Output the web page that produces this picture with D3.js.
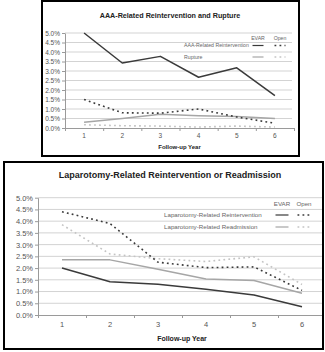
<!DOCTYPE html>
<html><head><meta charset="utf-8">
<script src="https://cdn.jsdelivr.net/npm/d3@7"></script>
<style>
html,body{margin:0;padding:0;background:#fff;}
svg{display:block;font-family:"Liberation Sans",Arial,sans-serif;}
</style></head>
<body><svg id="c" width="325" height="352"></svg>
<script>
// ---- data ----
const years = ["1","2","3","4","5","6"];
const yTickValues = [0,0.5,1,1.5,2,2.5,3,3.5,4,4.5,5];

const topTitle = "AAA-Related Reintervention and Rupture";
const aaaReintEvar = [5.0, 3.42, 3.77, 2.67, 3.17, 1.70];
const aaaReintOpen = [1.5, 0.80, 0.78, 1.00, 0.58, 0.25];
const ruptureEvar  = [0.30, 0.50, 0.72, 0.65, 0.60, 0.50];
const ruptureOpen  = [0.17, 0.12, 0.10, 0.05, 0.10, 0.05];
const topLegend = ["AAA-Related Reintervention", "Rupture"];

const botTitle = "Laparotomy-Related Reintervention or Readmission";
const lapReintEvar = [2.00, 1.42, 1.31, 1.10, 0.85, 0.35];
const lapReintOpen = [4.40, 3.90, 2.25, 2.02, 2.05, 1.05];
const lapReadEvar  = [2.36, 2.35, 1.95, 1.53, 1.47, 0.93];
const lapReadOpen  = [3.85, 2.60, 2.40, 2.28, 2.48, 1.30];
const botLegend = ["Laparotomy-Related Reintervention", "Laparotomy-Related Readmission"];

const legendCols = ["EVAR", "Open"];
const xTitle = "Follow-up Year";

// ---- styles ----
const sDarkSolid  = {stroke:"#3a3a3a", w:1.5, dash:null};
const sGraySolid  = {stroke:"#a6a6a6", w:1.5, dash:null};
const sDarkDot    = {stroke:"#3a3a3a", w:1.6, dash:"1.8,3.2"};
const sLightDot   = {stroke:"#c4c4c4", w:1.6, dash:"1.8,3.2"};

const svg = d3.select("#c");

function drawChart(cfg){
  const g = svg.append("g");
  g.append("rect").attr("x",cfg.box[0]).attr("y",cfg.box[1]).attr("width",cfg.box[2]).attr("height",cfg.box[3])
    .attr("fill","#fff");
  const clipId = "clip"+cfg.id;
  svg.append("clipPath").attr("id",clipId).append("rect")
    .attr("x",cfg.box[0]).attr("y",cfg.box[1]).attr("width",cfg.box[2]).attr("height",cfg.box[3]);
  const inner = g.append("g").attr("clip-path","url(#"+clipId+")");

  const x = d3.scaleBand().domain(years).range([cfg.px0,cfg.px1]);
  const xb = d3.scaleLinear().domain([0,years.length]).range([cfg.px0,cfg.px1]);
  const y = d3.scaleLinear().domain([0,5]).range([cfg.py0,cfg.py1]);

  // gridlines
  inner.append("g").selectAll("line").data(yTickValues.filter(d=>d>0)).join("line")
    .attr("x1",cfg.px0).attr("x2",cfg.gridEnd)
    .attr("y1",d=>y(d)).attr("y2",d=>y(d))
    .attr("stroke","#d3d3d3").attr("stroke-width",1);

  // y axis
  const ya = inner.append("g").attr("transform",`translate(${cfg.px0},0)`)
    .call(d3.axisLeft(y).tickValues(yTickValues).tickSize(3).tickSizeOuter(0).tickPadding(2)
      .tickFormat(d=>d.toFixed(1)+"%"));
  ya.select(".domain").attr("stroke","#9a9a9a");
  ya.selectAll(".tick line").attr("stroke","#9a9a9a");
  ya.selectAll("text").attr("fill","#555").attr("font-size",cfg.tickFs).attr("font-family","Liberation Sans, Arial");

  // x axis line + boundary ticks
  const xa = inner.append("g").attr("transform",`translate(0,${cfg.py0})`)
    .call(d3.axisBottom(xb).tickValues(d3.range(0,years.length+1)).tickSize(3).tickSizeOuter(0).tickFormat(""));
  xa.select(".domain").attr("stroke","#9a9a9a");
  xa.selectAll(".tick line").attr("stroke","#9a9a9a");
  const xl = inner.append("g").attr("transform",`translate(0,${cfg.py0})`)
    .call(d3.axisBottom(x).tickSize(0).tickPadding(cfg.xPad));
  xl.select(".domain").remove();
  xl.selectAll("text").attr("fill","#555").attr("font-size",cfg.tickFs).attr("font-family","Liberation Sans, Arial");

  // lines
  const line = d3.line().x((d,i)=>x(years[i])+x.bandwidth()/2).y(d=>y(d));
  cfg.series.forEach(s=>{
    inner.append("path").datum(s.values).attr("d",line).attr("fill","none")
      .attr("stroke",s.style.stroke).attr("stroke-width",s.style.w)
      .attr("stroke-dasharray",s.style.dash).attr("stroke-linejoin","round");
  });

  // titles
  g.append("text").attr("x",cfg.titleX).attr("y",cfg.titleY).attr("text-anchor","middle")
    .attr("font-size",cfg.titleFs).attr("font-weight","bold").attr("fill","#222").text(cfg.title);
  g.append("text").attr("x",(cfg.px0+cfg.px1)/2).attr("y",cfg.xTitleY).attr("text-anchor","middle")
    .attr("font-size",cfg.xTitleFs).attr("font-weight","bold").attr("fill","#222").text(xTitle);

  // legend
  const L = cfg.legend;
  g.selectAll(null).data(legendCols).join("text")
    .attr("x",(d,i)=>L.colX[i]).attr("y",L.headY).attr("text-anchor","middle")
    .attr("font-size",L.fs).attr("fill","#666").text(d=>d);
  cfg.legendRows.forEach((r,i)=>{
    const yy = L.rowY[i];
    g.append("text").attr("x",L.textX).attr("y",yy).attr("dy","0.35em")
      .attr("font-size",L.fs).attr("fill","#666").text(r.label);
    [r.evar, r.open].forEach((st,j)=>{
      g.append("line").attr("x1",L.colX[j]-L.sw/2).attr("x2",L.colX[j]+L.sw/2)
        .attr("y1",yy).attr("y2",yy).attr("stroke",st.stroke).attr("stroke-width",st.w*0.8)
        .attr("stroke-dasharray",st.dash);
    });
  });

  // border
  g.append("rect").attr("x",cfg.box[0]).attr("y",cfg.box[1]).attr("width",cfg.box[2]).attr("height",cfg.box[3])
    .attr("fill","none").attr("stroke","#000").attr("stroke-width",2);
}

drawChart({
  id:"top", box:[42,1,257,155],
  px0:65, px1:294, gridEnd:292, py0:128, py1:33,
  tickFs:6.5, xPad:5, titleFs:7.2, titleX:170, titleY:18, xTitleFs:6, xTitleY:149,
  title:topTitle,
  series:[
    {values:ruptureOpen, style:sLightDot},
    {values:ruptureEvar, style:sGraySolid},
    {values:aaaReintOpen, style:sDarkDot},
    {values:aaaReintEvar, style:sDarkSolid}
  ],
  legend:{colX:[258,280], headY:40, rowY:[45.5,57], textX:184, fs:5.2, sw:11},
  legendRows:[
    {label:topLegend[0], evar:sDarkSolid, open:sDarkDot},
    {label:topLegend[1], evar:sGraySolid, open:sLightDot}
  ]
});

drawChart({
  id:"bot", box:[4,162,319,187],
  px0:38, px1:326, gridEnd:322, py0:315, py1:197.7,
  tickFs:7.5, xPad:7, titleFs:9, titleX:170, titleY:178, xTitleFs:7, xTitleY:341,
  title:botTitle,
  series:[
    {values:lapReadOpen, style:sLightDot},
    {values:lapReadEvar, style:sGraySolid},
    {values:lapReintOpen, style:sDarkDot},
    {values:lapReintEvar, style:sDarkSolid}
  ],
  legend:{colX:[282,304], headY:205.5, rowY:[215,227], textX:164, fs:6.2, sw:13},
  legendRows:[
    {label:botLegend[0], evar:sDarkSolid, open:sDarkDot},
    {label:botLegend[1], evar:sGraySolid, open:sLightDot}
  ]
});
</script></body></html>
